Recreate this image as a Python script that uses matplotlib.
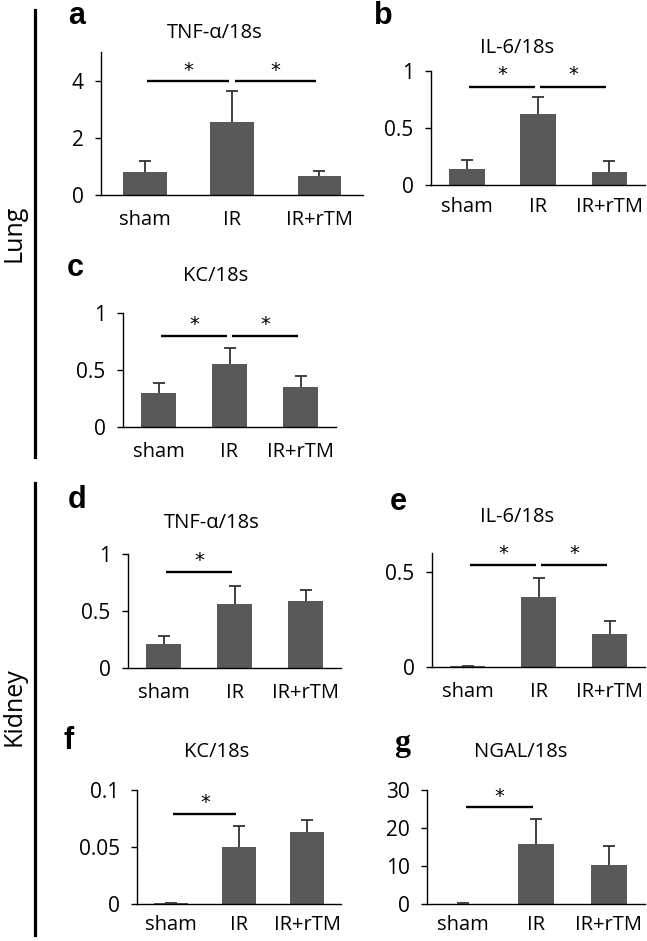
import matplotlib
matplotlib.use('Agg')
import matplotlib.pyplot as plt
from matplotlib.lines import Line2D

# data (mean, upper SD)
groups = ['sham', 'IR', 'IR+rTM']

tnf_lung = [0.82, 2.54, 0.68]
tnf_lung_err = [0.36, 1.10, 0.16]
il6_lung = [0.14, 0.62, 0.11]
il6_lung_err = [0.08, 0.15, 0.10]
kc_lung = [0.30, 0.555, 0.352]
kc_lung_err = [0.084, 0.135, 0.096]

tnf_kid = [0.21, 0.56, 0.59]
tnf_kid_err = [0.075, 0.16, 0.09]
il6_kid = [0.003, 0.37, 0.174]
il6_kid_err = [0.002, 0.098, 0.066]
kc_kid = [0.0008, 0.0497, 0.0629]
kc_kid_err = [0.0004, 0.0183, 0.0108]
ngal_kid = [0.1, 15.7, 10.35]
ngal_kid_err = [0.05, 6.7, 5.0]

# significance bars: (from, to, line level, star level)
sig_a = [(0, 1, 4.0, 4.37), (1, 2, 4.0, 4.37)]
sig_b = [(0, 1, 0.86, 0.965), (1, 2, 0.86, 0.965)]
sig_c = [(0, 1, 0.80, 0.895), (1, 2, 0.80, 0.895)]
sig_d = [(0, 1, 0.845, 0.947)]
sig_e = [(0, 1, 0.539, 0.596), (1, 2, 0.539, 0.596)]
sig_f = [(0, 1, 0.0787, 0.0886)]
sig_g = [(0, 1, 25.6, 28.2)]

W, H = 647, 941
BAR = '#595959'
FS = 14.5

plt.rcParams['font.family'] = ['Open Sans', 'DejaVu Sans']
fig = plt.figure(figsize=(W / 100, H / 100), dpi=100)


def px_axes(x0, x1, ytop, ybot):
    return fig.add_axes([x0 / W, 1 - ybot / H, (x1 - x0) / W, (ybot - ytop) / H])


def panel(box, vals, errs, ylim, yticks, ylabels, sig, pad=11):
    ax = px_axes(*box)
    x = list(range(len(groups)))
    tops = [v + e for v, e in zip(vals, errs)]
    ax.bar(x, vals, width=0.5, color=BAR, zorder=2)
    # upper error bars only
    ax.vlines(x, vals, tops, color='#333333', lw=1.3, zorder=3)
    ax.plot(x, tops, ls='none', marker='_', ms=8, mew=1.3, color='#333333', zorder=3)
    for i, j, ly, sy in sig:
        ax.plot([i + 0.03, j - 0.04], [ly, ly], color='black', lw=1.7,
                solid_capstyle='butt', clip_on=False)
        ax.text((i + j) / 2, sy, '*', ha='center', va='center', fontsize=14,
                family='DejaVu Sans')
    ax.set_xlim(-0.5, 2.5)
    ax.set_ylim(*ylim)
    ax.set_yticks(yticks)
    ax.set_yticklabels(ylabels)
    ax.set_xticks(x)
    ax.set_xticklabels(groups)
    ax.spines['top'].set_visible(False)
    ax.spines['right'].set_visible(False)
    ax.spines['left'].set_linewidth(1.0)
    ax.spines['bottom'].set_linewidth(1.0)
    ax.tick_params(axis='y', direction='out', length=4.5, width=1.0,
                   labelsize=15, pad=8)
    ax.tick_params(axis='x', length=0, labelsize=FS, pad=pad)
    return ax


panel((101, 363, 52, 195), tnf_lung, tnf_lung_err, (0, 5), [0, 2, 4],
      ['0', '2', '4'], sig_a)
panel((431, 645, 71, 185), il6_lung, il6_lung_err, (0, 1), [0, 0.5, 1],
      ['0', '0.5', '1'], sig_b, pad=9)
panel((123, 336, 313, 427), kc_lung, kc_lung_err, (0, 1), [0, 0.5, 1],
      ['0', '0.5', '1'], sig_c)
panel((128, 341, 554, 668), tnf_kid, tnf_kid_err, (0, 1), [0, 0.5, 1],
      ['0', '0.5', '1'], sig_d)
panel((432, 645, 553, 667), il6_kid, il6_kid_err, (0, 0.6), [0, 0.5],
      ['0', '0.5'], sig_e)
panel((137, 341, 790, 904), kc_kid, kc_kid_err, (0, 0.1), [0, 0.05, 0.1],
      ['0', '0.05', '0.1'], sig_f, pad=8)
panel((427, 645, 790, 904), ngal_kid, ngal_kid_err, (0, 30), [0, 10, 20, 30],
      ['0', '10', '20', '30'], sig_g, pad=8)

# titles
titles = [('TNF-α/18s', 215, 33), ('IL-6/18s', 517, 48), ('KC/18s', 216, 276),
          ('TNF-α/18s', 212, 523), ('IL-6/18s', 517, 517),
          ('KC/18s', 217, 752), ('NGAL/18s', 521, 752)]
for t, tx, ty in titles:
    fig.text(tx / W, 1 - ty / H, t, ha='center', va='center', fontsize=FS)

# panel letters
letters = [('a', 77, 16), ('b', 383, 16), ('c', 75, 268), ('d', 77, 500),
           ('e', 398, 502), ('f', 69, 741)]
for t, tx, ty in letters:
    fig.text(tx / W, 1 - ty / H, t, ha='center', va='center', fontsize=22,
             fontweight='bold', family='Liberation Sans')
fig.text(402 / W, 1 - 743 / H, 'g', ha='center', va='center', fontsize=23,
         fontweight='bold', family='Liberation Serif')

# organ brackets
fig.add_artist(Line2D([35 / W, 35 / W], [1 - 10 / H, 1 - 457 / H], lw=2.3, color='black'))
fig.add_artist(Line2D([35 / W, 35 / W], [1 - 483 / H, 1 - 935 / H], lw=2.3, color='black'))
fig.text(14 / W, 1 - 233 / H, 'Lung', rotation=90, ha='center', va='center', fontsize=18)
fig.text(14 / W, 1 - 707 / H, 'Kidney', rotation=90, ha='center', va='center', fontsize=18)

fig.savefig('out.png', dpi=100)
